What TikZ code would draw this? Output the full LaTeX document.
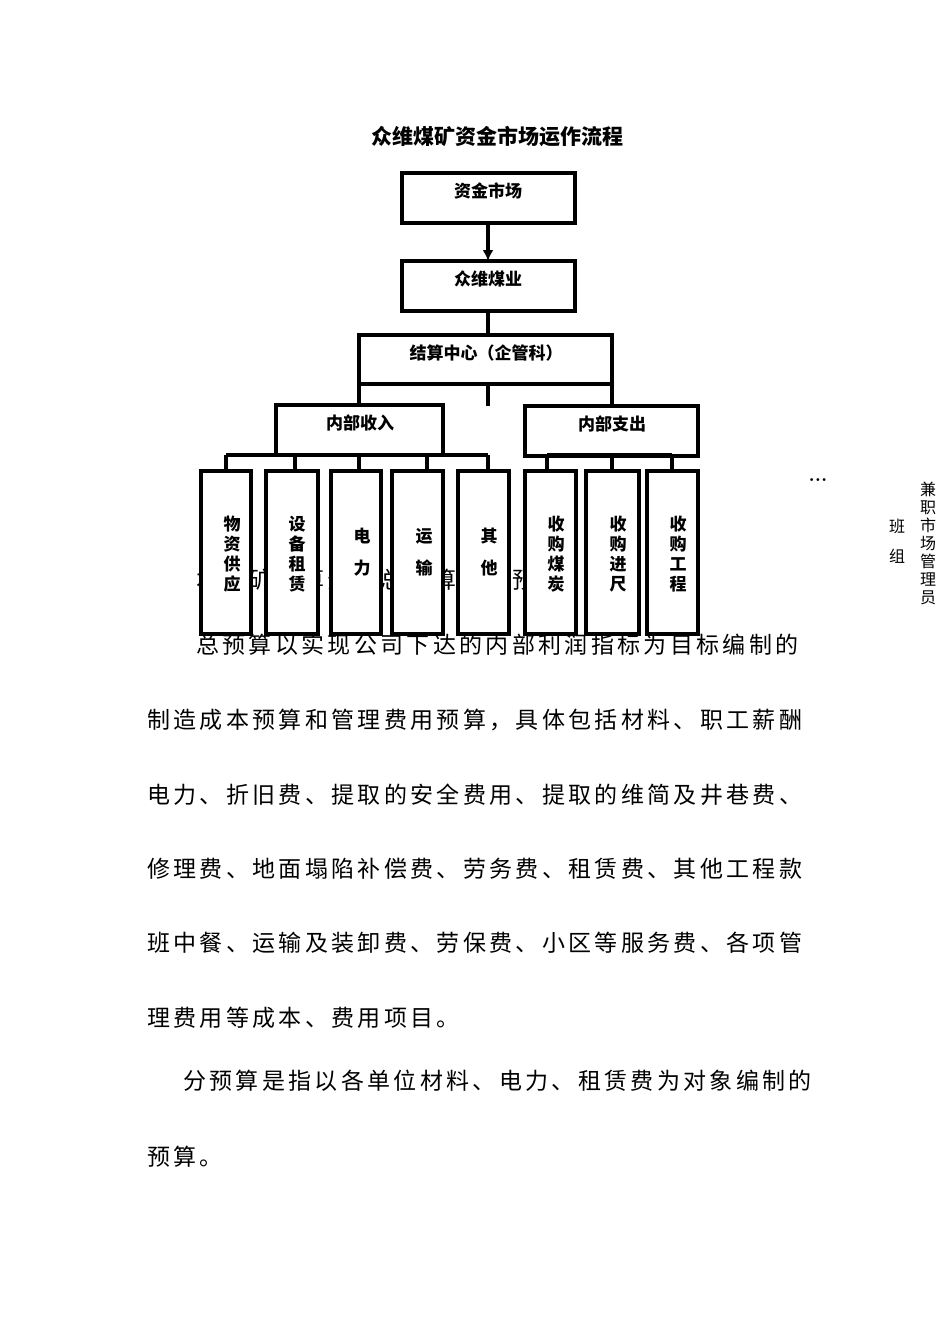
\documentclass[tikz,border=0pt]{standalone}
\usepackage{fontspec}
\usetikzlibrary{arrows.meta}
\newfontfamily\cjk{Noto Sans CJK SC}
\newfontfamily\cjkbody[LetterSpace=14.5]{Noto Sans CJK SC}
\begin{document}
\begin{tikzpicture}[x=1pt,y=-1pt,
  box/.style={draw,line width=3.5pt,fill=white},
  lbl/.style={font={\cjk\bfseries\fontsize{17}{20}\selectfont},inner sep=0pt},
  vlbl/.style={font={\cjk\bfseries\fontsize{17}{20}\selectfont},inner sep=0pt,align=center},
  ln/.style={line width=3.5pt},
  body/.style={font={\cjkbody\fontsize{23}{26}\selectfont},inner sep=0pt,anchor=west},
  side/.style={font={\cjk\fontsize{16}{18}\selectfont},inner sep=0pt,align=center}]
\useasboundingbox (0,0) rectangle (950,1344);
\node[font={\cjk\bfseries\fontsize{21}{24}\selectfont},inner sep=0pt] (title) at (497,137) {众维煤矿资金市场运作流程};
% line of text mostly hidden behind the boxes
\node[body] (hidden) at (196,580) {本煤矿预算分为总预算和分预算};
% main boxes
\draw[box] (402,173) rectangle (575,223); \coordinate (a) at (488,223);
\node[lbl] (zj) at (488,191) {资金市场};
\draw[box] (402,261) rectangle (575,311); \coordinate (b) at (488,261); \coordinate (b2) at (488,311);
\node[lbl] (zw) at (488,279) {众维煤业};
\draw[ln,-{Latex[length=11pt,width=11pt]}] (a) -- (b);
\coordinate (c) at (488,335);
\draw[ln] (b2) -- (c);
\draw[box] (359,335) rectangle (612,384);
\node[lbl] (js) at (486,353) {结算中心（企管科）};
\draw[ln] (488,384) -- (488,406);
\draw[ln] (359,384) -- (359,405);
\draw[ln] (612,384) -- (612,406);
\draw[box] (276,405) rectangle (443,455);
\node[lbl] (sr) at (360,423) {内部收入};
\draw[box] (525,406) rectangle (698,456);
\node[lbl] (zc) at (612,424) {内部支出};
% buses
\draw[ln] (226,455) -- (488,455);
\foreach \x in {226,295,359,427,488} \draw[ln] (\x,455) -- (\x,471);
\draw[ln] (547,455) -- (672,455);
\foreach \x in {547,612,672} \draw[ln] (\x,455) -- (\x,471);
% leaf boxes
\foreach \l/\r in {201/251,266/318,331/381,392/443,458/509,525/576,586/639,647/698}
  \draw[box] (\l,471) rectangle (\r,634);
\node[vlbl] (n1) at (232,554) {物\\资\\供\\应};
\node[vlbl] (n2) at (297,554) {设\\备\\租\\赁};
\node[vlbl] (n3) at (362,552) {电\\[12pt]力};
\node[vlbl] (n4) at (424,552) {运\\[12pt]输};
\node[vlbl] (n5) at (489,552) {其\\[12pt]他};
\node[vlbl] (n6) at (556,554) {收\\购\\煤\\炭};
\node[vlbl] (n7) at (618,554) {收\\购\\进\\尺};
\node[vlbl] (n8) at (678,554) {收\\购\\工\\程};
% side notes
\node[font={\bfseries\fontsize{20}{20}\selectfont},inner sep=0pt] (dots) at (818,480) {...};
\node[side] (bz) at (897,541) {班\\[12pt]组};
\node[side] (jz) at (928,543) {兼\\职\\市\\场\\管\\理\\员};
% body text
\node[body] (l1) at (196,645) {总预算以实现公司下达的内部利润指标为目标编制的};
\node[body] (l2) at (147,720) {制造成本预算和管理费用预算，具体包括材料、职工薪酬};
\node[body] (l3) at (147,795) {电力、折旧费、提取的安全费用、提取的维简及井巷费、};
\node[body] (l4) at (147,869) {修理费、地面塌陷补偿费、劳务费、租赁费、其他工程款};
\node[body] (l5) at (147,943) {班中餐、运输及装卸费、劳保费、小区等服务费、各项管};
\node[body] (l6) at (147,1018) {理费用等成本、费用项目。};
\node[body] (l7) at (183,1081) {分预算是指以各单位材料、电力、租赁费为对象编制的};
\node[body] (l8) at (147,1157) {预算。};
\end{tikzpicture}
\end{document}
